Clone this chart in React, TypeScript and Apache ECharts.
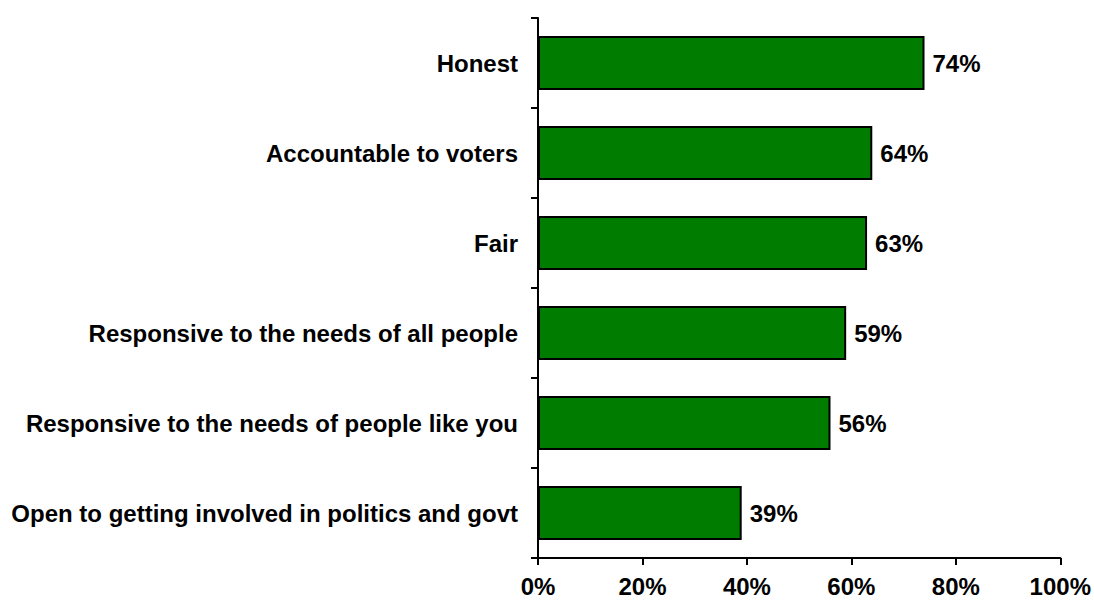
import React, { useEffect, useRef } from "react";
import * as echarts from "echarts";

const categories = [
  "Honest",
  "Accountable to voters",
  "Fair",
  "Responsive to the needs of all people",
  "Responsive to the needs of people like you",
  "Open to getting involved in politics and govt",
];
const values = [74, 64, 63, 59, 56, 39];
const xTicks = [0, 20, 40, 60, 80, 100];

export default function App() {
  const ref = useRef<HTMLDivElement>(null);
  useEffect(() => {
    if (!ref.current) return;
    const chart = echarts.init(ref.current, null, { renderer: "svg" });
    const font = "Liberation Sans, Arial, sans-serif";
    chart.setOption({
      animation: false,
      grid: { left: 538, right: 32, top: 18, bottom: 46, containLabel: false },
      xAxis: {
        type: "value",
        min: xTicks[0],
        max: xTicks[xTicks.length - 1],
        interval: 20,
        splitLine: { show: false },
        axisLine: { show: true, lineStyle: { color: "#000", width: 2 } },
        axisTick: { show: true, length: 7, lineStyle: { color: "#000", width: 2 } },
        axisLabel: {
          formatter: "{value}%",
          color: "#000",
          fontFamily: font,
          fontWeight: "bold",
          fontSize: 24,
          margin: 16,
        },
      },
      yAxis: {
        type: "category",
        data: categories,
        inverse: true,
        axisLine: { show: true, lineStyle: { color: "#000", width: 2 } },
        axisTick: { show: true, length: 7, alignWithLabel: false, lineStyle: { color: "#000", width: 2 } },
        axisLabel: {
          color: "#000",
          fontFamily: font,
          fontWeight: "bold",
          fontSize: 24,
          margin: 20,
        },
      },
      series: [
        {
          type: "bar",
          data: values,
          barWidth: 54,
          itemStyle: { color: "#007d00", borderColor: "#000", borderWidth: 2 },
          label: {
            show: true,
            position: "right",
            distance: 8,
            formatter: "{c}%",
            color: "#000",
            fontFamily: font,
            fontWeight: "bold",
            fontSize: 24,
          },
        },
      ],
    });
    return () => chart.dispose();
  }, []);
  return (
    <div
      ref={ref}
      style={{ position: "fixed", left: 0, top: 0, width: 1094, height: 604, background: "#fff" }}
    />
  );
}
